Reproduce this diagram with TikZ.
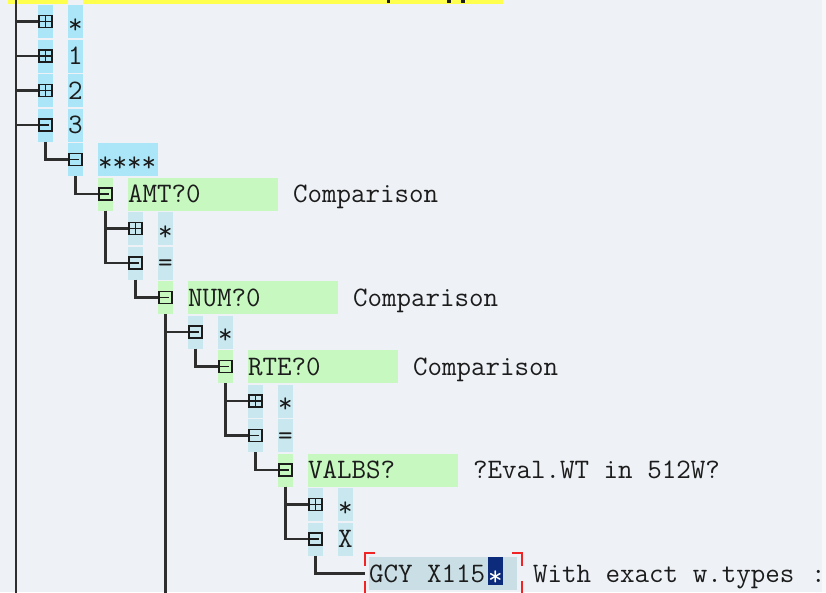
\documentclass[tikz,border=0pt]{standalone}
\usepackage{fontspec}
\definecolor{pane}{HTML}{EEF2F7}
\definecolor{paneedge}{HTML}{F7F8FA}
\definecolor{hdrcyan}{HTML}{AAE6F7}
\definecolor{subcyan}{HTML}{C8E7EE}
\definecolor{fieldgreen}{HTML}{C6F8C0}
\definecolor{fieldgray}{HTML}{CADFE5}
\definecolor{markyellow}{HTML}{FFFF4D}
\definecolor{treeline}{HTML}{2E2E2E}
\definecolor{ink}{HTML}{1C1C1C}
\definecolor{navy}{HTML}{0C2B7A}
\definecolor{focusred}{HTML}{F02424}
\begin{document}
\begin{tikzpicture}[x=1pt,y=-1pt,
  every node/.style={inner sep=0pt,outer sep=0pt},
  glyph/.style={draw=ink,line width=1.6pt},
  icon/.style={minimum width=15pt,minimum height=33pt,fill=#1},
  plusglyph/.style={path picture={
    \draw[glyph] ([xshift=-6.5pt,yshift=6pt]path picture bounding box.center)
      rectangle ([xshift=6.5pt,yshift=-6pt]path picture bounding box.center);
    \draw[glyph] ([yshift=6pt]path picture bounding box.center)
      -- ([yshift=-6pt]path picture bounding box.center);
    \draw[glyph] ([xshift=-6.5pt]path picture bounding box.center)
      -- ([xshift=6.5pt]path picture bounding box.center);}},
  minusglyph/.style={path picture={
    \draw[glyph] ([xshift=-6.5pt,yshift=6pt]path picture bounding box.center)
      rectangle ([xshift=6.5pt,yshift=-6pt]path picture bounding box.center);
    \draw[glyph] ([xshift=-6.5pt]path picture bounding box.center)
      -- ([xshift=3pt]path picture bounding box.center);}},
  field/.style={minimum height=33pt,anchor=west,fill=#1},
  txt/.style={anchor=base west,text=ink,font=\ttfamily\fontsize{28.2}{32}\selectfont},
  startxt/.style={txt,yshift=-3pt},
  tree/.style={draw=treeline,line width=2.2pt},
  focus/.style={draw=focusred,line width=2pt}]

\useasboundingbox (0,0) rectangle (826,592);
\fill[pane] (0,0) rectangle (826,592);
\fill[paneedge] (822,0) rectangle (826,592);

% highlighted row above, cut off at the top edge
\fill[markyellow] (8,0) rectangle (68,3.5);
\fill[markyellow] (83,0) rectangle (503,3.5);
\fill[ink] (387,0) rectangle (390,2.5);
\fill[ink] (447,0) rectangle (451,2.5);
\fill[ink] (461,0) rectangle (465,2.5);

% expand / collapse icons
\node[icon=hdrcyan,plusglyph]    (i0)  at (45.5,21.5)  {};
\node[icon=hdrcyan,plusglyph]    (i1)  at (45.5,56)    {};
\node[icon=hdrcyan,plusglyph]    (i2)  at (45.5,90.5)  {};
\node[icon=hdrcyan,minusglyph]   (i3)  at (45.5,125)   {};
\node[icon=hdrcyan,minusglyph]   (i4)  at (75.5,159.5) {};
\node[icon=fieldgreen,minusglyph](i5)  at (105.5,194)  {};
\node[icon=subcyan,plusglyph]    (i6)  at (135.5,228.5){};
\node[icon=subcyan,minusglyph]   (i7)  at (135.5,263)  {};
\node[icon=fieldgreen,minusglyph](i8)  at (165.5,297.5){};
\node[icon=subcyan,minusglyph]   (i9)  at (195.5,332)  {};
\node[icon=fieldgreen,minusglyph](i10) at (225.5,366.5){};
\node[icon=subcyan,plusglyph]    (i11) at (255.5,401)  {};
\node[icon=subcyan,minusglyph]   (i12) at (255.5,435.5){};
\node[icon=fieldgreen,minusglyph](i13) at (285.5,470)  {};
\node[icon=subcyan,plusglyph]    (i14) at (315.5,504.5){};
\node[icon=subcyan,minusglyph]   (i15) at (315.5,539)  {};

% key fields
\node[field=hdrcyan,minimum width=15pt]    (f0)  at (68,21.5)  {};
\node[field=hdrcyan,minimum width=15pt]    (f1)  at (68,56)    {};
\node[field=hdrcyan,minimum width=15pt]    (f2)  at (68,90.5)  {};
\node[field=hdrcyan,minimum width=15pt]    (f3)  at (68,125)   {};
\node[field=hdrcyan,minimum width=60pt]    (f4)  at (98,159.5) {};
\node[field=fieldgreen,minimum width=150pt](f5)  at (128,194)  {};
\node[field=subcyan,minimum width=15pt]    (f6)  at (158,228.5){};
\node[field=subcyan,minimum width=15pt]    (f7)  at (158,263)  {};
\node[field=fieldgreen,minimum width=150pt](f8)  at (188,297.5){};
\node[field=subcyan,minimum width=15pt]    (f9)  at (218,332)  {};
\node[field=fieldgreen,minimum width=150pt](f10) at (248,366.5){};
\node[field=subcyan,minimum width=15pt]    (f11) at (278,401)  {};
\node[field=subcyan,minimum width=15pt]    (f12) at (278,435.5){};
\node[field=fieldgreen,minimum width=150pt](f13) at (308,470)  {};
\node[field=subcyan,minimum width=15pt]    (f14) at (338,504.5){};
\node[field=subcyan,minimum width=15pt]    (f15) at (338,539)  {};
\node[field=fieldgray,minimum width=148pt] (f16) at (369,573.5){};

% field texts (baseline = row centre + 8.5)
\node[startxt] (t0)  at (68,30)    {*};
\node[txt]     (t1)  at (68,64.5)  {1};
\node[txt]     (t2)  at (68,99)    {2};
\node[txt]     (t3)  at (68,133.5) {3};
\node[startxt] (t4)  at (98,168)   {****};
\node[txt]     (t5)  at (128,202.5){AMT?0};
\node[startxt] (t6)  at (158,237)  {*};
\node[txt]     (t7)  at (158,271.5){=};
\node[txt]     (t8)  at (188,306)  {NUM?0};
\node[startxt] (t9)  at (218,340.5){*};
\node[txt]     (t10) at (248,375)  {RTE?0};
\node[startxt] (t11) at (278,409.5){*};
\node[txt]     (t12) at (278,444)  {=};
\node[txt]     (t13) at (308,478.5){VALBS?};
\node[startxt] (t14) at (338,513)  {*};
\node[txt]     (t15) at (338,547.5){X};
\node[txt]     (t16) at (369,582)  {GCY X115};

% cursor cell
\node[fill=navy,minimum width=15pt,minimum height=28pt] (cur) at (495.5,571) {};
\node[startxt,text=white] (curtxt) at (488,582) {*};

% descriptions
\node[txt] (c5)  at (293,202.5) {Comparison};
\node[txt] (c8)  at (353,306)   {Comparison};
\node[txt] (c10) at (413,375)   {Comparison};
\node[txt] (c13) at (473,478.5) {?Eval.WT in 512W?};
\node[txt] (c16) at (533,582)   {With exact w.types};
\node[txt] (c17) at (811,582)   {:};

% focus frame corners around the input field
\draw[focus] (375,553) -- (365,553) -- (365,566);
\draw[focus] (365,581) -- (365,593);
\draw[focus] (512,553) -- (522,553) -- (522,566);
\draw[focus] (522,581) -- (522,593);

% tree lines
\coordinate (rtop) at (16,0);
\coordinate (rbot) at (16,593);
\draw[tree] (rtop) -- (rbot);
\draw[tree] (rtop |- i0) -- (i0.west);
\draw[tree] (rtop |- i1) -- (i1.west);
\draw[tree] (rtop |- i2) -- (i2.west);
\draw[tree] (rtop |- i3) -- (i3.west);
\draw[tree] (i3.south) |- (i4.west);
\draw[tree] (i4.south) |- (i5.west);
\draw[tree] (i5.south) |- (i6.west);
\draw[tree] (i5.south) |- (i7.west);
\draw[tree] (i7.south) |- (i8.west);
\draw[tree] (i8.south) -- (i8.south |- rbot);
\draw[tree] (i8.south |- i9) -- (i9.west);
\draw[tree] (i9.south) |- (i10.west);
\draw[tree] (i10.south) |- (i11.west);
\draw[tree] (i10.south) |- (i12.west);
\draw[tree] (i12.south) |- (i13.west);
\draw[tree] (i13.south) |- (i14.west);
\draw[tree] (i13.south) |- (i15.west);
\draw[tree,shorten >=4pt] (i15.south) |- (f16.west);
\end{tikzpicture}
\end{document}
